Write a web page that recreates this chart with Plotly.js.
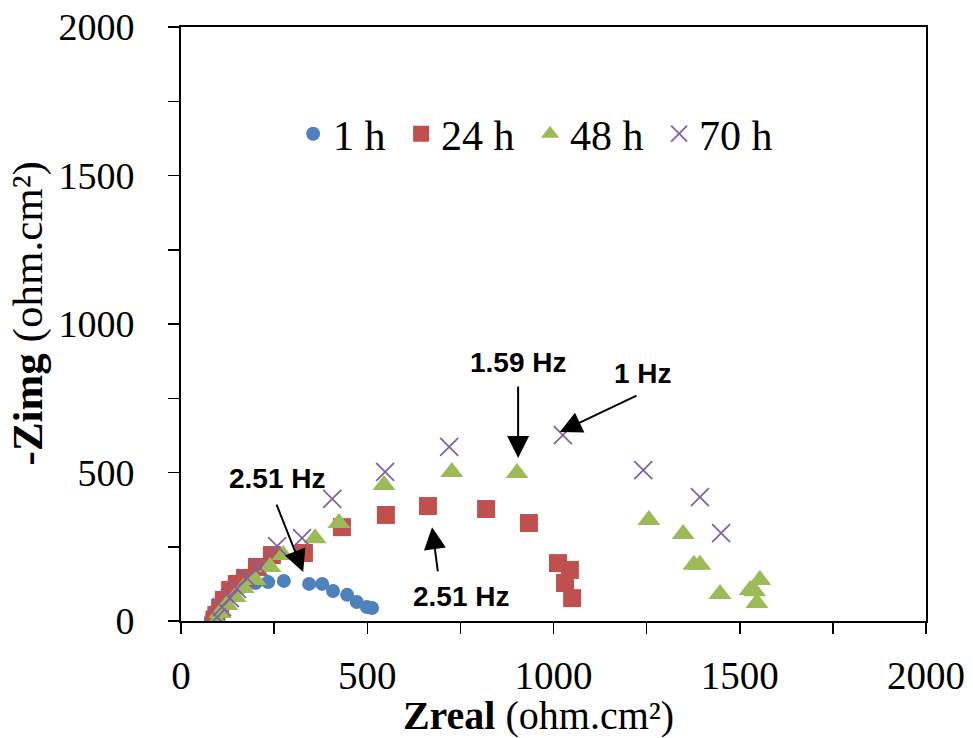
<!DOCTYPE html>
<html>
<head>
<meta charset="utf-8">
<script src="https://cdn.plot.ly/plotly-3.0.1.min.js"></script>
<style>html,body{margin:0;padding:0;background:#fff;}#chart{width:973px;height:738px;}</style>
</head>
<body>
<div id="chart"></div>
<script>
// 1 h
const zreal_1h = [80, 85, 92, 102, 115, 135, 165, 200, 234, 276, 344, 379, 408, 446, 472, 499, 513];
const zimg_1h  = [5, 18, 35, 55, 75, 95, 115, 128, 131, 135, 125, 125, 101, 88, 64, 47, 44];
// 24 h
const zreal_24h = [90, 95, 105, 115, 132, 150, 172, 204, 244, 330, 432, 550, 663, 819, 934, 1012, 1044, 1031, 1050];
const zimg_24h  = [5, 20, 44, 71, 104, 125, 145, 182, 222, 229, 316, 357, 387, 377, 330, 195, 172, 128, 77];
// 48 h
const zreal_48h = [97, 105, 123, 145, 167, 199, 239, 274, 360, 424, 545, 727, 902, 1256, 1348, 1377, 1393, 1447, 1528, 1554, 1546, 1540];
const zimg_48h  = [0, 27, 54, 81, 111, 138, 182, 222, 279, 330, 458, 502, 498, 340, 293, 189, 189, 91, 104, 138, 61, 100];
// 70 h
const zreal_70h = [97, 110, 131, 150, 177, 209, 258, 325, 406, 548, 720, 1025, 1241, 1393, 1450];
const zimg_70h  = [13, 47, 77, 108, 145, 182, 252, 279, 411, 502, 586, 626, 508, 417, 296];

const seriesNames = ['1 h', '24 h', '48 h', '70 h'];
const xTicks = [0, 500, 1000, 1500, 2000];
const yTicks = [0, 500, 1000, 1500, 2000];

// annotations: [text, x, y] and arrows [headX, headY, tailX, tailY]
const noteTexts = ['2.51 Hz', '2.51 Hz', '1.59 Hz', '1 Hz'];
const noteX = [260, 754, 907, 1240];
const noteY = [481, 81, 872, 832];
const arrowHeadX = [328, 674, 905, 1017];
const arrowHeadY = [165, 316, 549, 636];
const arrowTailX = [255, 690, 905, 1227];
const arrowTailY = [397, 162, 795, 761];

const pad = '&nbsp;';
const traces = [
  {x: zreal_1h, y: zimg_1h, name: seriesNames[0] + pad, mode: 'markers', type: 'scatter',
   marker: {symbol: 'circle', size: 14, color: '#4F81BD'}},
  {x: zreal_24h, y: zimg_24h, name: seriesNames[1] + pad, mode: 'markers', type: 'scatter',
   marker: {symbol: 'square', size: 18, color: '#C0504D'}},
  {x: zreal_48h, y: zimg_48h, name: seriesNames[2] + pad, mode: 'markers', type: 'scatter',
   marker: {symbol: 'triangle-up', size: 20, color: '#9BBB59'}},
  {x: zreal_70h, y: zimg_70h, name: seriesNames[3], mode: 'markers', type: 'scatter',
   marker: {symbol: 'x-thin', size: 18, color: '#8064A2', line: {color: '#8064A2', width: 1.8}}}
];

const annotations = [];
for (let i = 0; i < noteTexts.length; i++) {
  annotations.push({x: noteX[i], y: noteY[i], xref: 'x', yref: 'y', text: '<b>' + noteTexts[i] + '</b>',
    showarrow: false, font: {family: 'Liberation Sans, Arial', size: 28, color: '#000'}});
  annotations.push({x: arrowHeadX[i], y: arrowHeadY[i], ax: arrowTailX[i], ay: arrowTailY[i],
    xref: 'x', yref: 'y', axref: 'x', ayref: 'y', text: '', showarrow: true,
    arrowhead: 2, arrowsize: 2.2, arrowwidth: 2, arrowcolor: '#000', standoff: 0, startstandoff: 0});
}

const axisCommon = {
  showgrid: false, zeroline: false, showline: true, linecolor: '#000', linewidth: 2,
  mirror: true, ticks: 'outside', ticklen: 11, tickwidth: 1.5, tickcolor: '#000',
  range: [0, 2000],
  minor: {dtick: 250, ticks: 'outside', ticklen: 11, tickwidth: 1.5, tickcolor: '#000', showgrid: false}
};

const layout = {
  width: 973, height: 738,
  margin: {l: 181, r: 47, t: 27, b: 117},
  paper_bgcolor: '#fff', plot_bgcolor: '#fff',
  font: {family: 'Liberation Serif, Times New Roman', color: '#000'},
  showlegend: true,
  legend: {orientation: 'h', x: 0.476, xanchor: 'center', y: 0.82, yanchor: 'middle',
    font: {family: 'Liberation Serif, Times New Roman', size: 42, color: '#000'},
    bgcolor: 'rgba(0,0,0,0)', itemwidth: 30},
  xaxis: Object.assign({}, axisCommon, {
    tickvals: xTicks, ticktext: xTicks.map(String),
    tickfont: {family: 'Liberation Serif, Times New Roman', size: 39, color: '#000'},
    ticklabelstandoff: 8,
    title: {text: '<b>Zreal</b> (ohm.cm²)&nbsp;&nbsp;&nbsp;', font: {family: 'Liberation Serif, Times New Roman', size: 40, color: '#000'}, standoff: 2}
  }),
  yaxis: Object.assign({}, axisCommon, {
    tickvals: yTicks, ticktext: yTicks.map(String),
    tickfont: {family: 'Liberation Serif, Times New Roman', size: 38, color: '#000'},
    ticklabelstandoff: 26,
    title: {text: '&nbsp;&nbsp;<b>-Zimg</b> (ohm.cm²)', font: {family: 'Liberation Serif, Times New Roman', size: 43, color: '#000'}, standoff: 2}
  }),
  annotations: annotations
};

Plotly.newPlot('chart', traces, layout, {displayModeBar: false, staticPlot: true});
</script>
</body>
</html>
